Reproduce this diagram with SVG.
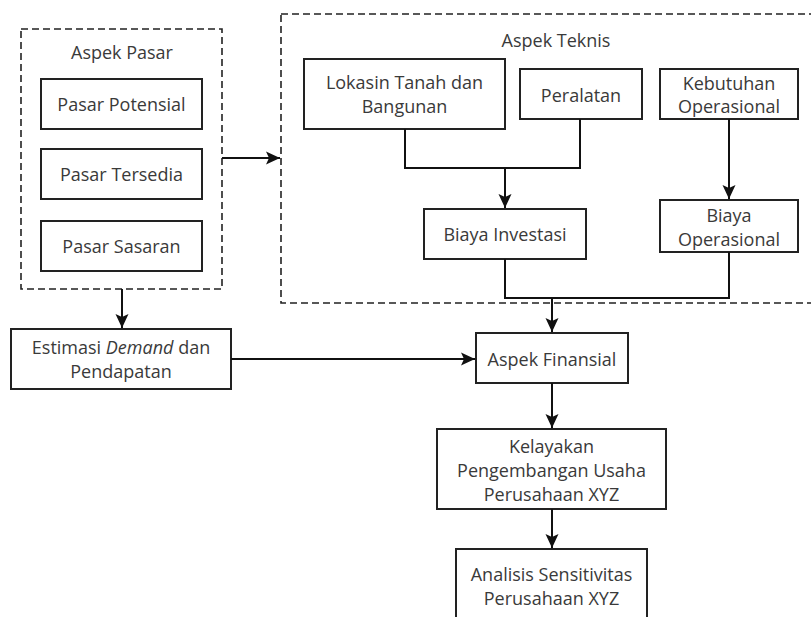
<svg xmlns="http://www.w3.org/2000/svg" width="811" height="617" viewBox="0 0 811 617">
<style>
.box{fill:#fff;stroke:#222;stroke-width:2}
.grp{fill:none;stroke:#222;stroke-width:1.6;stroke-dasharray:7 4}
.t{font-family:"Open Sans","DejaVu Sans",sans-serif;font-size:18px;fill:#3a3a3a;text-anchor:middle;dominant-baseline:central}
.c{fill:none;stroke:#111;stroke-width:2}
</style>
<defs>
<marker id="ah" markerUnits="userSpaceOnUse" markerWidth="16" markerHeight="16" viewBox="0 0 16 16" refX="15" refY="8" orient="auto">
<path d="M1,1.5 L15,8 L1,14.5 L4,8 Z" fill="#111"/>
</marker>
</defs>
<rect width="811" height="617" fill="#fff"/>
<g id="aspek-pasar">
<rect class="grp" x="21" y="29" width="201" height="260"/>
<text class="t" x="122" y="52">Aspek Pasar</text>
</g>
<g id="pasar-potensial"><rect class="box" x="41" y="79" width="161" height="50"/><text class="t" x="121.5" y="104">Pasar Potensial</text></g>
<g id="pasar-tersedia"><rect class="box" x="41" y="149" width="161" height="50"/><text class="t" x="121.5" y="174">Pasar Tersedia</text></g>
<g id="pasar-sasaran"><rect class="box" x="41" y="221" width="161" height="50"/><text class="t" x="121.5" y="246">Pasar Sasaran</text></g>
<g id="aspek-teknis">
<rect class="grp" x="281" y="14" width="540" height="289"/>
<text class="t" x="556" y="40">Aspek Teknis</text>
</g>
<g id="lokasi"><rect class="box" x="304" y="59" width="201" height="70"/><text class="t" x="404.5" y="82">Lokasin Tanah dan</text><text class="t" x="404.5" y="106">Bangunan</text></g>
<g id="peralatan"><rect class="box" x="520" y="69" width="122" height="50"/><text class="t" x="581" y="95">Peralatan</text></g>
<g id="kebutuhan"><rect class="box" x="660" y="69" width="138" height="50"/><text class="t" x="729" y="83">Kebutuhan</text><text class="t" x="729" y="106">Operasional</text></g>
<g id="biaya-investasi"><rect class="box" x="424" y="209" width="162" height="50"/><text class="t" x="505" y="234">Biaya Investasi</text></g>
<g id="biaya-operasional"><rect class="box" x="660" y="200" width="138" height="52"/><text class="t" x="729" y="215">Biaya</text><text class="t" x="729" y="239">Operasional</text></g>
<g id="estimasi"><rect class="box" x="11" y="329" width="220" height="60"/><text class="t" x="121" y="347">Estimasi <tspan font-style="italic">Demand</tspan> dan</text><text class="t" x="121" y="371">Pendapatan</text></g>
<g id="aspek-finansial"><rect class="box" x="476" y="333" width="152" height="50"/><text class="t" x="552" y="359">Aspek Finansial</text></g>
<g id="kelayakan"><rect class="box" x="437" y="429" width="229" height="80"/><text class="t" x="551.5" y="446">Kelayakan</text><text class="t" x="551.5" y="470">Pengembangan Usaha</text><text class="t" x="551.5" y="494">Perusahaan XYZ</text></g>
<g id="analisis"><rect class="box" x="456" y="549" width="191" height="75"/><text class="t" x="551.5" y="574">Analisis Sensitivitas</text><text class="t" x="551.5" y="598">Perusahaan XYZ</text></g>
<g id="connectors">
<path class="c" d="M222,158 H280" marker-end="url(#ah)"/>
<path class="c" d="M122,289 V328" marker-end="url(#ah)"/>
<path class="c" d="M405,129 V168 H580 V119"/>
<path class="c" d="M505,168 V208" marker-end="url(#ah)"/>
<path class="c" d="M729,119 V199" marker-end="url(#ah)"/>
<path class="c" d="M505,259 V298 H729 V252"/>
<path class="c" d="M552,298 V332" marker-end="url(#ah)"/>
<path class="c" d="M231,359 H475" marker-end="url(#ah)"/>
<path class="c" d="M552,383 V428" marker-end="url(#ah)"/>
<path class="c" d="M552,509 V548" marker-end="url(#ah)"/>
</g>
</svg>
